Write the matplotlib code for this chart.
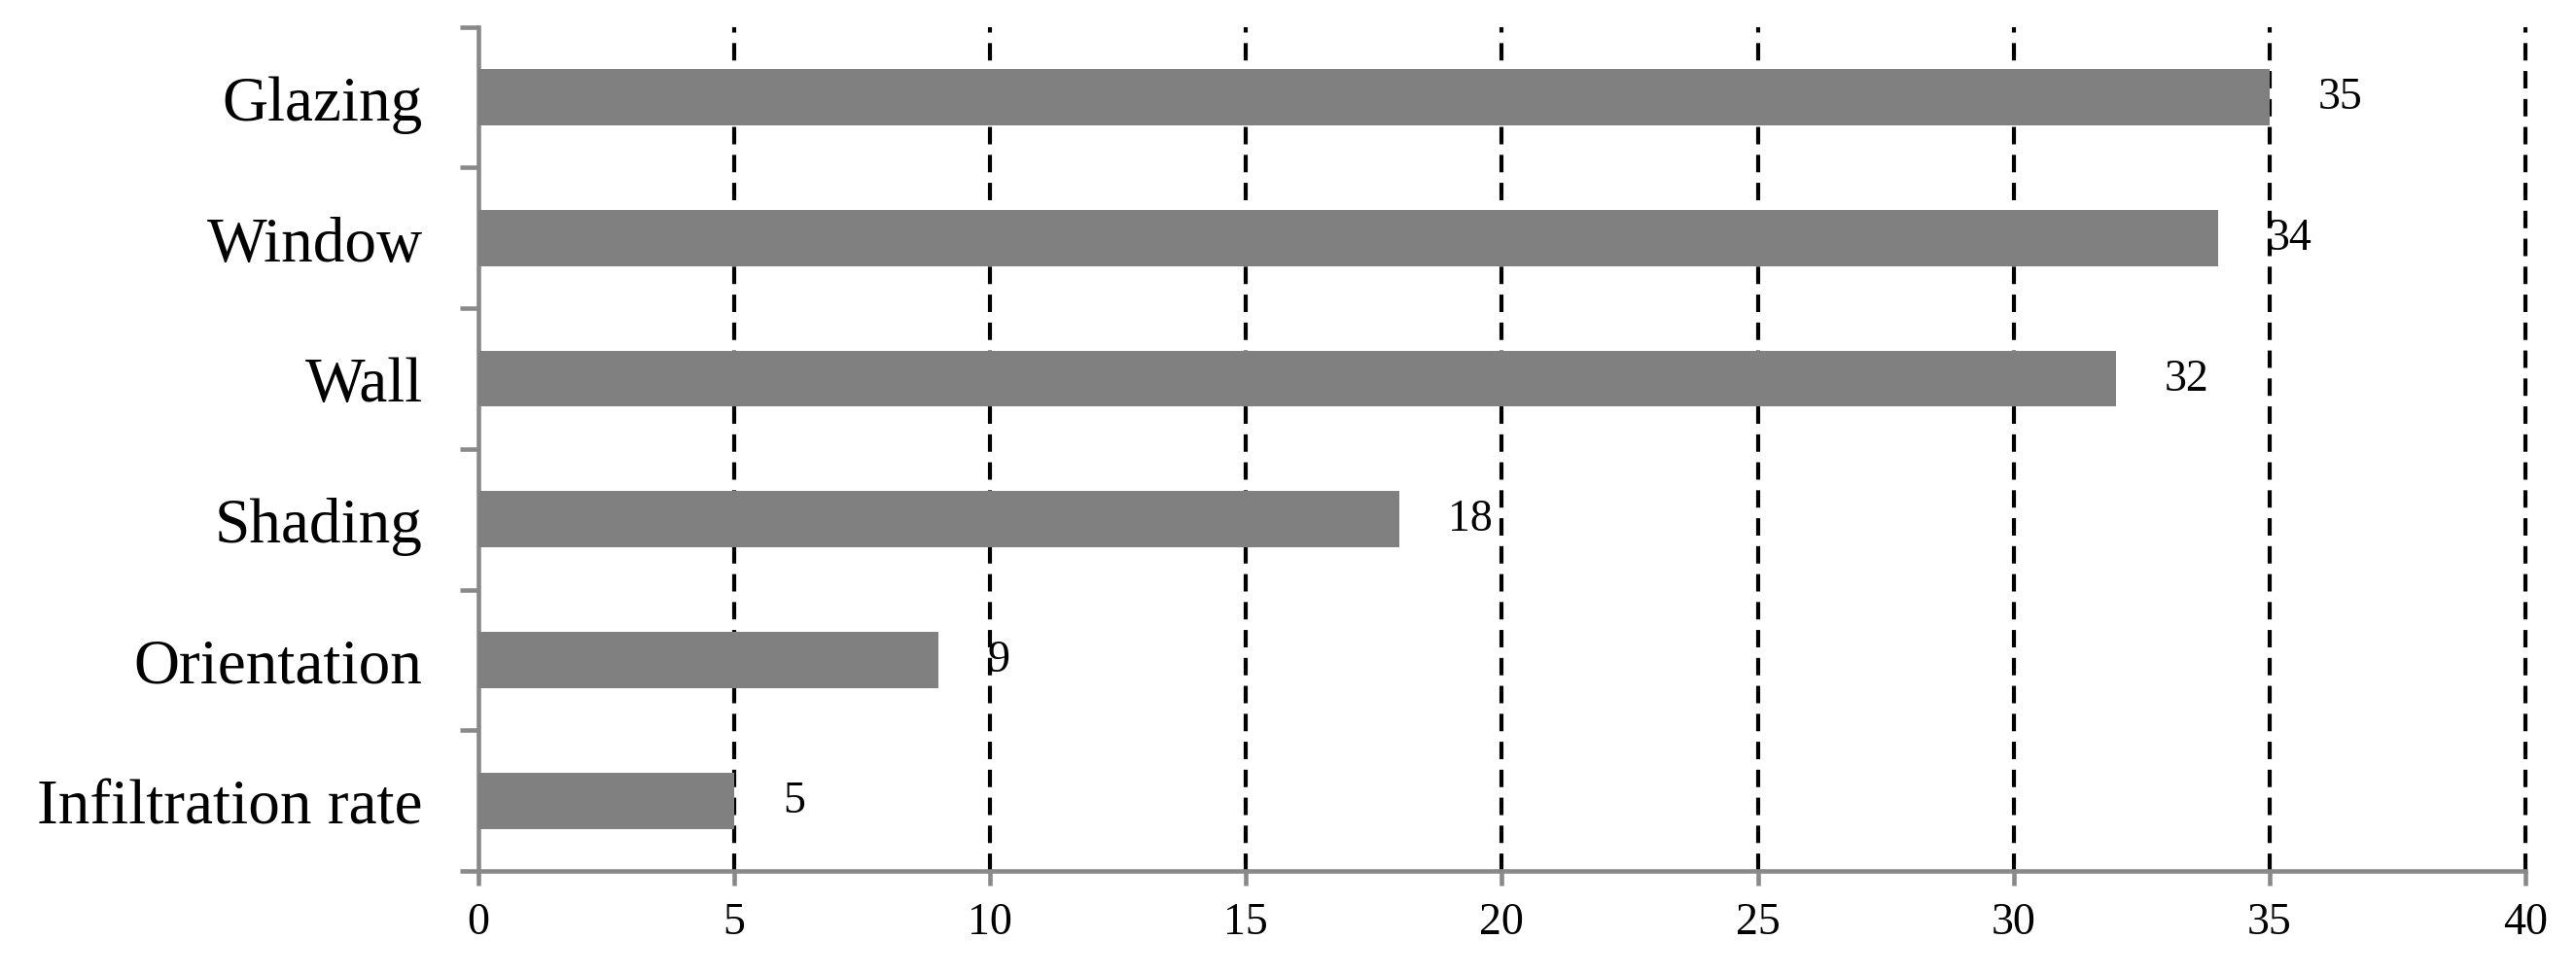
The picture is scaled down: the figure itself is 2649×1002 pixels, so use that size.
import matplotlib.pyplot as plt
import numpy as np

# data
factors = ['Glazing', 'Window', 'Wall', 'Shading', 'Orientation', 'Infiltration rate']
scores = [35, 34, 32, 18, 9, 5]
xticks = [0, 5, 10, 15, 20, 25, 30, 35, 40]

plt.rcParams['font.family'] = ['Liberation Serif', 'DejaVu Serif']

fig = plt.figure(figsize=(26.49, 10.03), dpi=100)
ax = fig.add_axes([0.1856, 0.1057, 0.7948, 0.8657])

ypos = np.arange(len(factors))
ax.barh(ypos, scores, height=0.4, color='#808080', zorder=3)

for y, v in zip(ypos, scores):
    ax.annotate(str(v), (v, y), xytext=(36, 0), textcoords='offset points',
                ha='left', va='center', fontsize=33, zorder=4)

ax.set_xlim(0, 40)
ax.set_ylim(len(factors) - 0.5, -0.5)

ax.set_xticks(xticks)
ax.set_xticklabels([str(t) for t in xticks])
ax.set_yticks(ypos)
ax.set_yticklabels(factors)
ax.set_yticks(np.arange(-0.5, len(factors)), minor=True)

# dashed vertical gridlines
for t in xticks[1:]:
    ax.axvline(t, color='black', lw=3, linestyle=(0, (4.3, 2.6)), zorder=2,
               clip_on=False)

for s in ['top', 'right']:
    ax.spines[s].set_visible(False)
for s in ['left', 'bottom']:
    ax.spines[s].set_color('#898989')
    ax.spines[s].set_linewidth(3.3)

ax.tick_params(axis='y', which='major', length=0, pad=41, labelsize=47)
ax.tick_params(axis='y', which='minor', length=14, width=3.3, color='#898989')
ax.tick_params(axis='x', length=11, width=3.3, color='#898989', pad=12, labelsize=33)

fig.savefig('out.png', dpi=100)
